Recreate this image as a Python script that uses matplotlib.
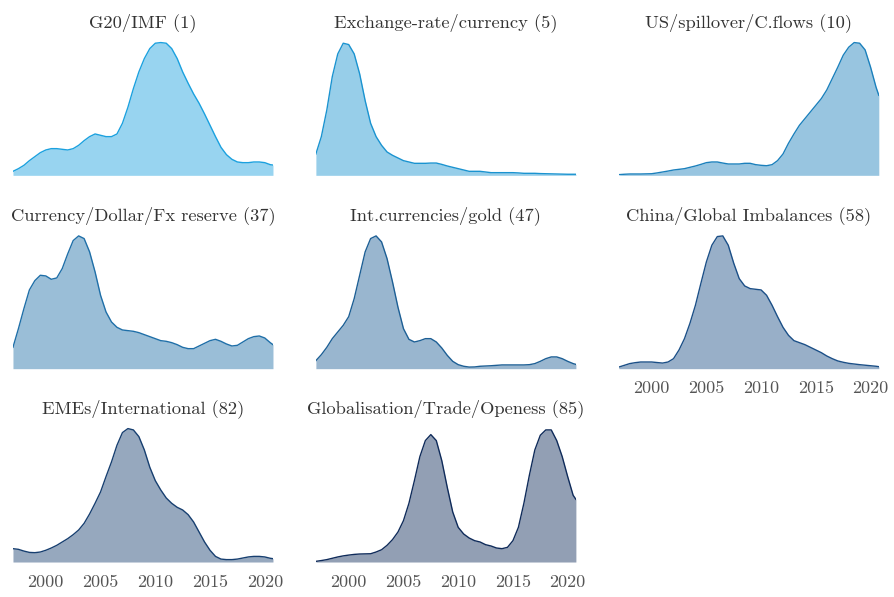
import numpy as np
import matplotlib
matplotlib.use("Agg")
import matplotlib.pyplot as plt

plt.rcParams["font.family"] = ["cmr10", "DejaVu Serif"]
plt.rcParams["axes.formatter.use_mathtext"] = True

# grid of years the densities were read at (half-year steps, last point at data end)
years = list(np.arange(1997, 2020.51, 0.5)) + [2020.75]

titles = ["G20/IMF (1)", "Exchange-rate/currency (5)", "US/spillover/C.flows (10)",
          "Currency/Dollar/Fx reserve (37)", "Int.currencies/gold (47)",
          "China/Global Imbalances (58)", "EMEs/International (82)",
          "Globalisation/Trade/Openess (85)"]

colors = ["#1ba1df", "#1a93d0", "#1b80bc", "#1f6fa8",
          "#1d5f95", "#1b4f87", "#173f70", "#0f2b5a"]

# relative density (peak ~100)
g20 = [3, 5, 7.5, 11, 14, 17, 19, 20, 20, 19.5, 19, 20, 22.5, 26, 29, 31, 30, 29,
       29, 31, 39, 51, 65, 77.5, 87.5, 95, 99, 99.5, 99, 95, 87.5, 77.5, 69, 61,
       54, 46, 37.5, 29, 21, 15.5, 12, 10, 9.5, 9.5, 10, 10, 9.5, 8, 7.7]
fx = [16, 29, 49, 74, 91, 99, 98, 91, 76, 56, 39, 29, 22.5, 17.5, 15, 13, 11, 10,
      9, 9, 9, 9.2, 9.2, 8.2, 7, 6, 5, 4, 3, 3, 3, 2.5, 2, 2, 2, 2, 2, 1.8, 1.5,
      1.5, 1.5, 1.3, 1.2, 1.1, 1, 0.9, 0.8, 0.8, 0.8]
us = [0.5, 0.8, 1, 1, 1, 1.1, 1.2, 1.8, 2.5, 3.2, 4, 4.5, 5, 6, 7, 8.2, 9.5, 10,
      10, 9.2, 8.5, 8.5, 8.5, 9, 9, 8, 7.5, 7.2, 8, 11, 16, 24, 31, 37.5, 42.5,
      47.5, 52.5, 57.5, 64, 72.5, 81, 90, 96, 99.5, 99, 94, 81, 66, 60]
cur = [16, 30, 45, 59, 66, 70, 69.5, 67, 68, 75, 86, 96, 99.5, 97.5, 87.5, 72.5,
       55, 42.5, 35, 31, 29, 28.5, 28, 27, 25.5, 24, 22.5, 21, 20.5, 19.5, 18, 16,
       15, 15, 17, 19, 21, 22, 20.5, 18.5, 17, 17.5, 20, 22.5, 24, 24.5, 23, 19.5,
       18]
gold = [6, 10.5, 16, 22.5, 27.5, 32.5, 39, 52.5, 70, 87.5, 97.5, 99.5, 95, 82.5,
        65, 46, 30, 22, 20, 21, 22.5, 22.5, 20, 15.5, 10, 5.5, 3, 1.8, 1.2, 1.3,
        1.8, 2, 2.2, 2.5, 2.8, 2.8, 2.8, 2.8, 2.8, 3, 3.8, 5.5, 7.5, 8.8, 8.8, 7.5,
        5.5, 3.8, 3.2]
china = [1.2, 2.5, 3.8, 4.5, 5, 5, 5, 4.6, 4.2, 5, 7.5, 14, 22.5, 34, 47.5, 64, 80,
         92.5, 99, 99.5, 92.5, 79, 67.5, 62, 60, 59.5, 59, 55, 47.5, 39, 31, 25,
         21, 19.5, 18, 16, 14, 12, 9.5, 7.5, 5.8, 4.8, 4, 3.5, 3, 2.6, 2.2, 1.8,
         1.5]
emes = [10, 9.5, 8.2, 7.2, 7, 7.5, 8.8, 10.5, 12.5, 15, 17.5, 20.5, 24, 29, 36, 44,
        52.5, 64, 75, 87.5, 97, 100, 99, 94, 84, 71, 61, 54, 48, 44, 41, 39, 35.5,
        30, 22.5, 15, 8.8, 4.2, 2.2, 1.8, 1.8, 2.2, 3, 3.8, 4.2, 4.2, 3.8, 2.8,
        2.5]
glob_ = [0.5, 1.1, 1.8, 2.8, 3.8, 4.6, 5.2, 5.7, 6, 6.1, 6.2, 7.5, 9.2, 12.5,
         16.8, 22.5, 31, 44, 61, 79, 91, 95.5, 91, 76, 56, 37.5, 26, 21, 18, 16,
         15, 13, 12, 10.5, 10, 11, 16, 26, 44, 65, 84, 95, 99, 99, 91, 79, 64, 50,
         47]

series = [g20, fx, us, cur, gold, china, emes, glob_]
tick_years = [2000, 2005, 2010, 2015, 2020]

fig, axes = plt.subplots(3, 3, figsize=(8.94, 5.97), dpi=100)
fig.subplots_adjust(left=0.0145, right=0.983, bottom=0.0586, top=0.941,
                    wspace=0.165, hspace=0.38)
axes = axes.ravel()

for i, ax in enumerate(axes):
    if i >= len(series):
        ax.axis("off")
        continue
    y = np.asarray(series[i], float)
    ax.fill_between(years, y, color=colors[i], alpha=0.45, lw=0)
    ax.plot(years, y, color=colors[i], lw=1.0, solid_joinstyle="round")
    ax.set_xlim(1997, 2020.75)
    ax.set_ylim(0, 105)
    ax.set_title(titles[i], fontsize=13.3, color="#333333")
    for s in ax.spines.values():
        s.set_visible(False)
    ax.set_yticks([])
    if i >= 5:
        ax.set_xticks(tick_years)
        ax.set_xticklabels([str(t) for t in tick_years])
        ax.tick_params(axis="x", length=0, pad=9, labelsize=13, labelcolor="#555555")
    else:
        ax.set_xticks([])

fig.savefig("out.png", dpi=100)
